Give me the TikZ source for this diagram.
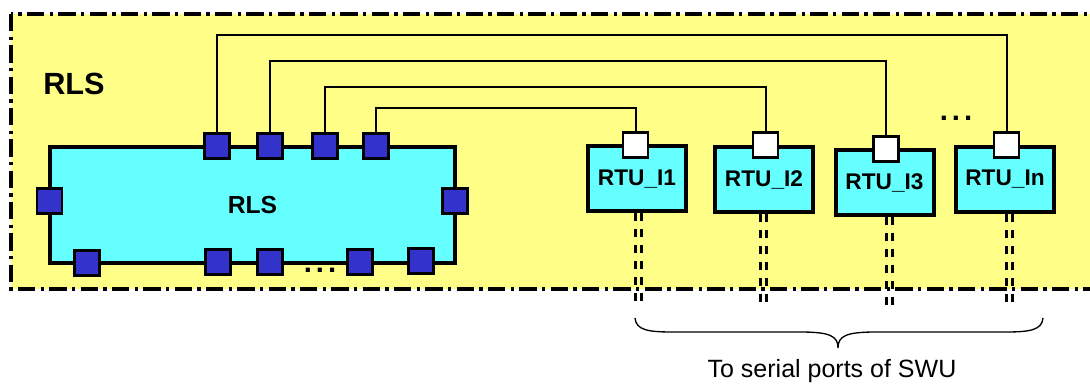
\documentclass[tikz,border=0pt]{standalone}
\usepackage{fontspec}
\setmainfont{Liberation Sans}
\definecolor{bgyellow}{RGB}{255,255,136}
\definecolor{boxcyan}{RGB}{102,255,255}
\definecolor{portblue}{RGB}{51,51,204}
\begin{document}
\begin{tikzpicture}[x=0.75pt,y=-0.75pt,
  frame/.style={fill=bgyellow,draw=black,line width=3pt,dash pattern=on 13pt off 4pt on 2.5pt off 4pt},
  mainbox/.style={draw=black,fill=boxcyan,line width=3pt,minimum width=303.75pt,minimum height=87pt,inner sep=0pt,font=\bfseries\fontsize{18.5}{20}\selectfont},
  rtubox/.style={draw=black,fill=boxcyan,line width=3pt,minimum width=73.5pt,minimum height=48.75pt,inner sep=0pt,font=\bfseries\fontsize{17}{18}\selectfont},
  port/.style={draw=black,fill=portblue,line width=1.6pt,minimum size=18.75pt,inner sep=0pt},
  wport/.style={draw=black,fill=white,line width=1.6pt,minimum size=18.75pt,inner sep=0pt},
  wire/.style={draw=black,line width=1.5pt},
  serial/.style={draw=black,line width=2.2pt,dash pattern=on 6pt off 6pt},
  dots/.style={font=\bfseries\fontsize{22}{24}\selectfont,inner sep=0pt}
]
\useasboundingbox (0,0) rectangle (1090,384);
\begin{scope}
\clip (0,0) rectangle (1090,384);
\draw[frame] (11,14) rectangle (1100,289);
\end{scope}

\node[font=\bfseries\fontsize{23}{24}\selectfont,inner sep=0pt] (rlslabel) at (74,83.5) {RLS};

% coordinates for wire bends
\coordinate (h1) at (600,35);
\coordinate (h2) at (600,61);
\coordinate (h3) at (600,87);
\coordinate (h4) at (500,108);

% main box
\node[mainbox] (rls) at (252.5,205) {RLS};

% RTU boxes
\node[rtubox] (r1) at (637,179) {RTU\_I1};
\node[rtubox] (r2) at (764,179.5) {RTU\_I2};
\node[rtubox] (r3) at (884.5,182.5) {RTU\_I3};
\node[rtubox] (r4) at (1005,179.5) {RTU\_In};

% ports on RLS
\node[port] (p1) at (217,146) {};
\node[port] (p2) at (270,146) {};
\node[port] (p3) at (325,146) {};
\node[port] (p4) at (376,146) {};
\node[port] (pl) at (49.5,201) {};
\node[port] (pr) at (455,201) {};
\node[port] (b1) at (87,263) {};
\node[port] (b2) at (218,262) {};
\node[port] (b3) at (270,262) {};
\node[port] (b4) at (360,262) {};
\node[port] (b5) at (421,261) {};

% white ports on RTUs
\node[wport] (w1) at (635.5,145) {};
\node[wport] (w2) at (765.5,145) {};
\node[wport] (w3) at (886,149) {};
\node[wport] (w4) at (1006.5,145) {};

% wires
\draw[wire] (p1.north) |- (h1) -| (w4.north);
\draw[wire] (p2.north) |- (h2) -| (w3.north);
\draw[wire] (p3.north) |- (h3) -| (w2.north);
\draw[wire] (p4.north) |- (h4) -| (w1.north);

% dots
\node[dots] (d1) at (320,270) {.\hspace{3pt}.\hspace{3pt}.};
\node[dots] (d2) at (956,118) {.\hspace{3pt}.\hspace{3pt}.};

% serial lines
\coordinate (s1) at (638.5,308);
\coordinate (s2) at (763.5,308);
\coordinate (s3) at (889.5,308);
\coordinate (s4) at (1009.5,308);
\foreach \r/\s in {r1/s1,r2/s2,r3/s3,r4/s4}{
  \draw[serial] ([xshift=-2pt]\r.south -| \s) -- ([xshift=-2pt]\s);
  \draw[serial] ([xshift=2pt]\r.south -| \s) -- ([xshift=2pt]\s);
}

% brace
\draw[line width=1pt] (635,318) .. controls (636,330) and (648,332) .. (672,332)
  -- (800,332) .. controls (830,332) and (838,336) .. (838,348)
  .. controls (838,336) and (846,332) .. (876,332)
  -- (1006,332) .. controls (1030,332) and (1042,330) .. (1043,318);

\node[font=\fontsize{18.75}{20}\selectfont,inner sep=0pt] (caption) at (832,371) {To serial ports of SWU};
\end{tikzpicture}
\end{document}
